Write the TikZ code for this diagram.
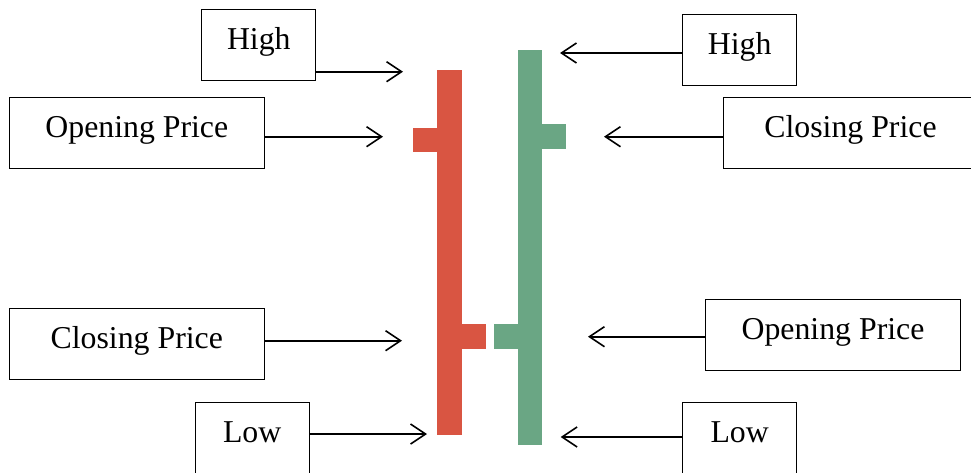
\documentclass[tikz,border=0pt]{standalone}
\usepackage{fontspec}
\setmainfont{Liberation Serif}
\usetikzlibrary{arrows.meta}
\definecolor{candred}{RGB}{217,85,66}
\definecolor{candgreen}{RGB}{106,166,132}
\tikzset{
  lbl/.style={draw=black, line width=1pt, inner sep=0pt, font=\fontsize{31.8}{36}\selectfont,
    text height=22pt, text depth=13.5pt, minimum height=71.5pt},
  smallbox/.style={lbl, minimum width=114.3pt},
  widebox/.style={lbl, minimum width=254.5pt},
  arr/.style={line width=1.6pt, -{Straight Barb[length=15pt, width=20pt, line width=1.6pt]}},
}
\begin{document}
\begin{tikzpicture}[x=1pt, y=-1pt]
\useasboundingbox (0,0) rectangle (971,472);
% candlesticks
\fill[candred] (437,69.5) rectangle (461.5,435);
\fill[candred] (413,127.5) rectangle (437,152);
\fill[candred] (461.5,324) rectangle (485.5,349);
\fill[candgreen] (517.5,49.5) rectangle (542,445);
\fill[candgreen] (542,124) rectangle (566,148.5);
\fill[candgreen] (493.5,324) rectangle (517.5,349);
% label boxes
\node[smallbox] (hiL) at (258.8,45.2) {High};
\node[widebox]  (opL) at (136.8,133)  {Opening Price};
\node[widebox]  (clL) at (136.8,343.8) {Closing Price};
\node[smallbox] (loL) at (252.2,438)  {Low};
\node[smallbox] (hiR) at (739.7,50)   {High};
\node[widebox]  (clR) at (850.5,133.2) {Closing Price};
\node[widebox]  (opR) at (833,335)    {Opening Price};
\node[smallbox] (loR) at (739.7,438.2) {Low};
% arrow tips
\coordinate (tHiL) at (403,71.7);
\coordinate (tOpL) at (383,136.7);
\coordinate (tClL) at (402,340.7);
\coordinate (tLoL) at (427,434);
\coordinate (tHiR) at (560,53);
\coordinate (tClR) at (604,136.7);
\coordinate (tOpR) at (588,336.7);
\coordinate (tLoR) at (560.7,437);
% arrows
\draw[arr] (hiL.east |- tHiL) -- (tHiL);
\draw[arr] (opL.east |- tOpL) -- (tOpL);
\draw[arr] (clL.east |- tClL) -- (tClL);
\draw[arr] (loL.east |- tLoL) -- (tLoL);
\draw[arr] (hiR.west |- tHiR) -- (tHiR);
\draw[arr] (clR.west |- tClR) -- (tClR);
\draw[arr] (opR.west |- tOpR) -- (tOpR);
\draw[arr] (loR.west |- tLoR) -- (tLoR);
\end{tikzpicture}
\end{document}
